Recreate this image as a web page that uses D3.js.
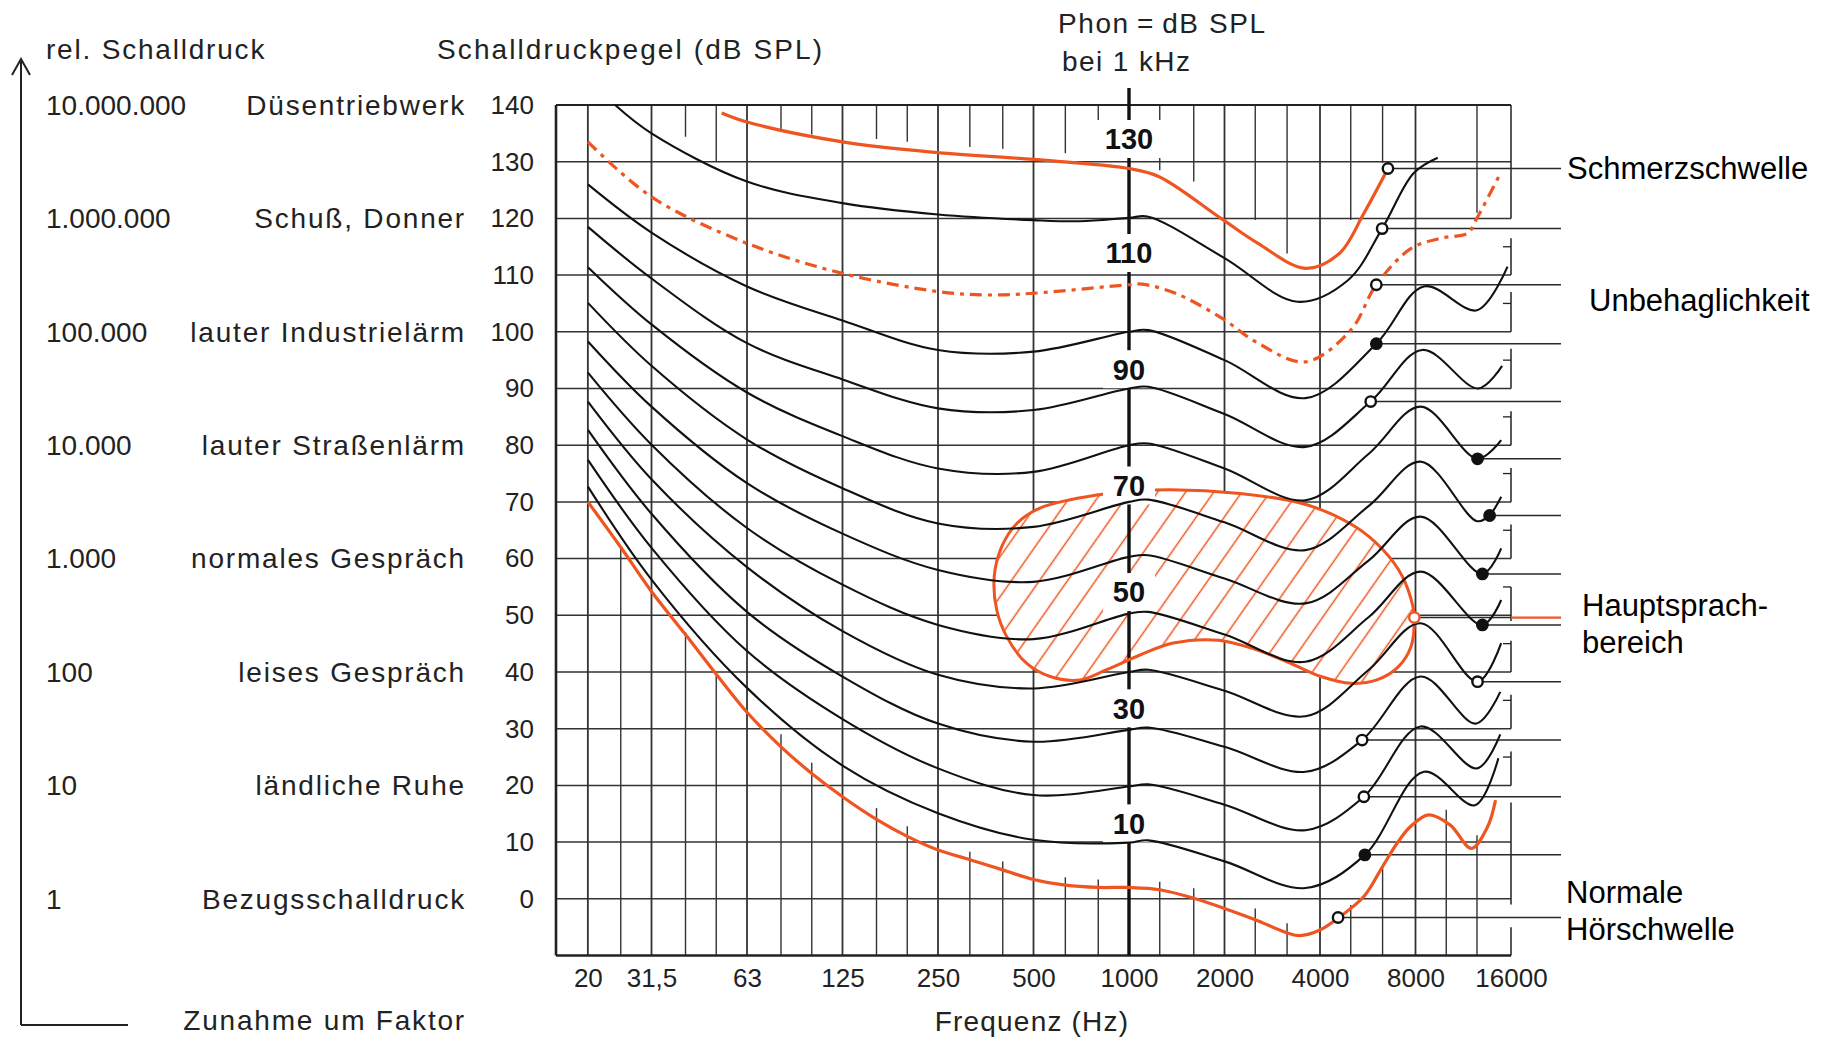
<!DOCTYPE html>
<html>
<head>
<meta charset="utf-8">
<script src="https://cdn.jsdelivr.net/npm/d3@7"></script>
<style>
  body { margin: 0; background: #fff; }
  svg { display: block; font-family: "Liberation Sans", Arial, sans-serif; }
</style>
</head>
<body>
<div id="chart"></div>
<script>
// ---- data ----
const dbTicks = [0, 10, 20, 30, 40, 50, 60, 70, 80, 90, 100, 110, 120, 130, 140];
const relPressureDb = [140, 120, 100, 80, 60, 40, 20, 0];
const relPressure = ["10.000.000", "1.000.000", "100.000", "10.000", "1.000", "100", "10", "1"];
const sources = ["Düsentriebwerk", "Schuß, Donner", "lauter Industrielärm", "lauter Straßenlärm",
                 "normales Gespräch", "leises Gespräch", "ländliche Ruhe", "Bezugsschalldruck"];

const freqTicks = [19.69, 31.25, 62.5, 125, 250, 500, 1000, 2000, 4000, 8000, 16000];
const freqLabels = ["20", "31,5", "63", "125", "250", "500", "1000", "2000", "4000", "8000", "16000"];
const majorFreqs = [19.69, 31.25, 62.5, 125, 250, 500, 2000, 4000, 8000];

// third-octave lines hanging from the top frame (end level in dB)
const topLineFreqs = [40, 50, 80, 100, 160, 200, 315, 400, 630, 800, 1250, 1600, 2500, 3150, 5000, 6300, 12500];
const topLineEnds  = [134.4, 130, 135.3, 134.8, 134, 133.5, 132.6, 132.3, 131.5, 131.5, 128.5, 126.5, 119.7, 113.8, 119.7, 129.8, 121];
// third-octave lines rising from the bottom frame
const bottomLineFreqs = [25, 40, 50, 80, 100, 160, 200, 315, 400, 630, 800, 1250, 1600, 2500, 3150, 5000, 6300, 10000, 12500];
const bottomLineEnds  = [62, 47, 40, 29, 24, 16, 12.8, 8.3, 6.6, 3.8, 3.4, 3.0, 1.85, -1.7, -4.3, -1.1, 6, 15.7, 11.2];

const rightFrameSegs = [[120, 140], [110, 116.5], [100, 107], [90, 97], [80, 86], [70, 76], [60, 66],
                        [49, 55], [40, 45.5], [30, 36], [20, 26], [-1, 17], [-10, -5]];
const rightFrameTicks = [115, 105, 95, 85, 75, 65, 55, 45, 35, 25];

// equal-loudness contours [Hz, dB]
const phon120 = [[24,140],[31.25,135],[62.5,126.5],[125,122.7],[250,120.7],[500,119.7],[700,119.5],[1000,120.1],[1150,120.3],[2000,113],[3400,105.3],[4900,109.1],[6280,118.2],[7900,128],[9400,130.7]];
const phon100 = [[19.7,126],[31.25,117.5],[62.5,108],[125,102],[250,96.8],[500,96.5],[1000,100],[1150,100.3],[2000,95],[3600,88.3],[6020,97.9],[8500,108],[12500,103.8],[15600,111.5]];
const phon90  = [[19.7,118.5],[31.25,109.4],[62.5,98],[125,91.6],[250,86.5],[500,86.2],[1000,90],[1150,90.3],[2000,85.5],[3600,79.7],[5780,87.7],[8400,96.8],[12600,90],[15000,94]];
const phon80  = [[19.7,111.4],[31.25,101.3],[62.5,89.3],[125,81.6],[250,75.9],[500,75.3],[1000,80],[1150,80.3],[2000,75.9],[3600,70.3],[5700,78.5],[8300,86.8],[12550,77.6],[14900,80.9]];
const phon70  = [[19.7,105.1],[31.25,94],[62.5,81],[125,72.4],[250,66.2],[500,65.6],[1000,70],[1150,70.4],[2000,66.4],[3600,61.5],[5700,69.3],[8300,77.1],[12500,66.6],[13700,67.7],[14900,70.9]];
const phon60  = [[19.7,98.3],[31.25,86.8],[62.5,73.3],[125,64.4],[250,58],[500,55.9],[1000,60.3],[1150,60.6],[2000,56.5],[3600,52.1],[5700,59.7],[8300,67.4],[13000,57.3],[14900,61.8]];
const phon50  = [[19.7,92.8],[31.25,80.1],[62.5,65.4],[125,55.4],[250,48.3],[500,45.8],[1000,50.3],[1150,50.6],[2000,46.6],[3600,41.8],[5700,49.7],[8300,57.7],[13000,48.3],[14900,52.7]];
const phon40  = [[19.7,87.7],[31.25,74],[62.5,58.5],[125,47.2],[250,39.5],[500,37.1],[1000,40],[1150,40.4],[2000,36.7],[3600,32.2],[5700,40.4],[8300,48.6],[12550,38.3],[14900,45.1]];
const phon30  = [[19.7,82.7],[31.25,67.9],[62.5,50.6],[125,39.2],[250,30.9],[500,27.7],[1000,29.8],[1150,30.2],[2000,26.8],[3600,22.4],[5430,28],[8300,39.2],[12400,30.9],[14800,36.5]];
const phon20  = [[19.7,77.4],[31.25,61.9],[62.5,43.7],[125,31.7],[250,23],[500,18.3],[1000,19.8],[1150,20.2],[2000,16.6],[3600,12.1],[5500,18],[8300,30.4],[12500,23],[14800,29]];
const phon10  = [[19.7,72.7],[31.25,56.3],[62.5,37.2],[125,23.5],[250,15.1],[500,10.4],[1000,9.9],[1150,10.3],[2000,6.6],[3600,1.9],[5540,7.75],[8500,22.4],[12300,16.5],[14600,24.8]];

const hoerschwelle = [[19.7,70],[25,62],[31.25,54.2],[40,46.6],[50,39.6],[62.5,32.9],[80,26.8],[100,22.1],[125,18],[160,14],[200,11],[250,8.6],[315,6.9],[400,5.1],[500,3.4],[630,2.4],[800,2],[1000,2],[1250,1.6],[1600,0.1],[2000,-1.7],[2500,-3.7],[3150,-6],[3450,-6.5],[4000,-5.5],[4560,-3.4],[5500,0.4],[6300,5.7],[7000,9.8],[7700,12.7],[8800,14.8],[10300,13],[12000,8.9],[13500,12.7],[14300,17.4]];
const schmerzschwelle = [[52,138.6],[62.5,137],[125,133.5],[250,131.6],[500,130.4],[1000,128.8],[1240,127.4],[1950,120],[2550,115.6],[3600,111.2],[4600,113.8],[5500,120.9],[6550,128.8]];
const unbehaglichkeit = [[19.7,133.5],[31.25,123.8],[62.5,115.6],[125,110.3],[250,107.1],[353,106.5],[500,106.8],[1000,108.3],[1100,108.4],[1400,106.8],[1950,102.5],[2550,98],[3600,94.7],[5000,100.3],[6020,108.3],[7750,114.7],[9600,116.5],[11700,117.4],[12400,119.7],[14900,128.2]];

const sprachbereich = [[791,71.2],[1193,72.1],[2238,71.5],[3633,69.5],[5173,65.6],[6329,61.5],[7281,56.8],[7857,51.5],[7934,49.6],[7744,44.5],[7057,40.9],[6042,38.6],[5011,38.0],[4028,39.2],[3240,41.5],[2526,43.9],[1915,45.6],[1379,45.1],[1083,43.0],[850,40.4],[701,38.6],[564,39.2],[476,41.5],[412,46.2],[383,50.9],[376,56.8],[397,62.1],[443,66.2],[524,68.9]];

// markers on the curves, each with a line out to the right margin
const markerFreq = [6550, 6280, 6020, 6020, 5780, 12550, 13700, 13000, 7934, 13000, 12550, 5430, 5500, 5540, 4560];
const markerDb   = [128.8, 118.2, 108.3, 97.9, 87.7, 77.6, 67.6, 57.3, 49.6, 48.3, 38.3, 28, 18, 7.75, -3.3];
const markerFill = [0, 0, 0, 1, 0, 1, 1, 1, 0, 1, 0, 0, 0, 1, 0];

const curveLabels = ["130", "110", "90", "70", "50", "30", "10"];
const curveLabelDb = [134, 113.9, 93.4, 72.9, 54.1, 33.6, 13.3];

// ---- layout ----
const width = 1821, height = 1039;
const plot = { left: 556, right: 1511, top: 105, bottom: 955.5 };
const labelEdge = 1561;
const orange = "#ef5520", ink = "#111", gridCol = "#333";

const svg = d3.select("#chart").append("svg")
    .attr("width", width).attr("height", height)
    .attr("viewBox", [0, 0, width, height]);
svg.append("rect").attr("width", width).attr("height", height).attr("fill", "#fff");

const x = d3.scaleLog().base(2).domain([15.625, 16000]).range([plot.left, plot.right]);
const y = d3.scaleLinear().domain([-10, 140]).range([plot.bottom, plot.top]);

const defs = svg.append("defs");
const pat = defs.append("pattern").attr("id", "hatch")
    .attr("patternUnits", "userSpaceOnUse").attr("width", 23).attr("height", 23)
    .attr("patternTransform", "rotate(35)");
pat.append("line").attr("x1", 11.5).attr("x2", 11.5).attr("y1", 0).attr("y2", 23)
    .attr("stroke", orange).attr("stroke-width", 1.5);

// grid
const gH = svg.append("g");
gH.selectAll("line").data(dbTicks.filter(d => d < 140)).join("line")
    .attr("x1", plot.left).attr("x2", plot.right)
    .attr("y1", d => y(d)).attr("y2", d => y(d))
    .attr("stroke", gridCol).attr("stroke-width", 1.5);

const gV = svg.append("g");
gV.selectAll("line").data(majorFreqs).join("line")
    .attr("x1", d => x(d)).attr("x2", d => x(d))
    .attr("y1", plot.top).attr("y2", plot.bottom)
    .attr("stroke", gridCol).attr("stroke-width", 1.8);

const gTop = svg.append("g");
gTop.selectAll("line").data(topLineFreqs).join("line")
    .attr("x1", d => x(d)).attr("x2", d => x(d))
    .attr("y1", plot.top).attr("y2", (d, i) => y(topLineEnds[i]))
    .attr("stroke", gridCol).attr("stroke-width", 1.4);

const gBot = svg.append("g");
gBot.selectAll("line").data(bottomLineFreqs).join("line")
    .attr("x1", d => x(d)).attr("x2", d => x(d))
    .attr("y1", plot.bottom).attr("y2", (d, i) => y(bottomLineEnds[i]))
    .attr("stroke", gridCol).attr("stroke-width", 1.4);

// frame
const frame = svg.append("g").attr("stroke", "#222");
frame.append("line").attr("x1", plot.left).attr("x2", plot.right).attr("y1", plot.top).attr("y2", plot.top).attr("stroke-width", 2);
frame.append("line").attr("x1", plot.left).attr("x2", plot.right).attr("y1", plot.bottom).attr("y2", plot.bottom).attr("stroke-width", 2.6);
frame.append("line").attr("x1", plot.left).attr("x2", plot.left).attr("y1", plot.top).attr("y2", plot.bottom).attr("stroke-width", 2.6);
frame.selectAll("line.seg").data(rightFrameSegs).join("line").attr("class", "seg")
    .attr("x1", plot.right).attr("x2", plot.right)
    .attr("y1", d => y(d[0])).attr("y2", d => y(d[1])).attr("stroke-width", 1.5);
frame.selectAll("line.tk").data(rightFrameTicks).join("line").attr("class", "tk")
    .attr("x1", plot.right - 8).attr("x2", plot.right)
    .attr("y1", d => y(d)).attr("y2", d => y(d)).attr("stroke-width", 1.3);

// speech area
const closed = d3.line().x(d => x(d[0])).y(d => y(d[1])).curve(d3.curveCatmullRomClosed.alpha(0.5));
svg.append("path").attr("d", closed(sprachbereich)).attr("fill", "#fff");
svg.append("path").attr("d", closed(sprachbereich)).attr("fill", "url(#hatch)");

// bold 1 kHz line
svg.append("line").attr("x1", x(1000)).attr("x2", x(1000)).attr("y1", 88).attr("y2", plot.bottom)
    .attr("stroke", ink).attr("stroke-width", 3.4);

svg.append("path").attr("d", closed(sprachbereich)).attr("fill", "none")
    .attr("stroke", orange).attr("stroke-width", 3);

// white boxes behind the phon labels
svg.selectAll("rect.lb").data(curveLabels).join("rect").attr("class", "lb")
    .attr("x", d => x(1000) - (d.length * 9 + 8))
    .attr("width", d => d.length * 18 + 16)
    .attr("y", (d, i) => y(curveLabelDb[i]) - 19).attr("height", 38)
    .attr("fill", "#fff");

// marker leader lines
const mk = markerFreq.map((f, i) => ({ f, db: markerDb[i], filled: markerFill[i], i }));
svg.append("g").selectAll("line").data(mk).join("line")
    .attr("x1", d => x(d.f)).attr("x2", d => d.i === 8 ? plot.right : labelEdge)
    .attr("y1", d => y(d.db)).attr("y2", d => y(d.db))
    .attr("stroke", "#2a2a2a").attr("stroke-width", 1.5);
svg.append("line").attr("x1", plot.right).attr("x2", labelEdge)
    .attr("y1", y(markerDb[8])).attr("y2", y(markerDb[8]))
    .attr("stroke", orange).attr("stroke-width", 2.2);

// contours
const line = d3.line().x(d => x(d[0])).y(d => y(d[1])).curve(d3.curveCatmullRom.alpha(0.5));
const blackCurves = [phon120, phon100, phon90, phon80, phon70, phon60, phon50, phon40, phon30, phon20, phon10];
svg.append("g").selectAll("path").data(blackCurves).join("path")
    .attr("d", line).attr("fill", "none").attr("stroke", ink).attr("stroke-width", 2.1);

svg.append("path").attr("d", line(hoerschwelle)).attr("fill", "none")
    .attr("stroke", orange).attr("stroke-width", 3.2);
svg.append("path").attr("d", line(schmerzschwelle)).attr("fill", "none")
    .attr("stroke", orange).attr("stroke-width", 3.2);
svg.append("path").attr("d", line(unbehaglichkeit)).attr("fill", "none")
    .attr("stroke", orange).attr("stroke-width", 3.2).attr("stroke-dasharray", "12,6,4,6");

// markers
svg.append("g").selectAll("circle").data(mk).join("circle")
    .attr("cx", d => x(d.f)).attr("cy", d => y(d.db)).attr("r", 5.2)
    .attr("fill", d => d.filled ? ink : "#fff")
    .attr("stroke", d => d.i === 8 ? orange : ink).attr("stroke-width", 2.4);

// phon labels at 1 kHz
svg.selectAll("text.cl").data(curveLabels).join("text").attr("class", "cl")
    .attr("x", x(1000)).attr("y", (d, i) => y(curveLabelDb[i])).attr("dy", "0.36em")
    .attr("text-anchor", "middle").attr("font-size", 29).attr("font-weight", "bold")
    .attr("fill", ink).text(d => d);

// axes
const yAxis = svg.append("g").attr("transform", `translate(${plot.left},0)`)
    .call(d3.axisLeft(y).tickValues(dbTicks).tickSize(0).tickPadding(22));
yAxis.select(".domain").remove();
yAxis.attr("font-family", null).attr("font-size", null);
yAxis.selectAll("text").attr("font-size", 26).attr("fill", "#222");

const xAxis = svg.append("g").attr("transform", `translate(0,${plot.bottom})`)
    .call(d3.axisBottom(x).tickValues(freqTicks).tickFormat((d, i) => freqLabels[i]).tickSize(0).tickPadding(13));
xAxis.select(".domain").remove();
xAxis.attr("font-family", null).attr("font-size", null);
xAxis.selectAll("text").attr("font-size", 26).attr("fill", "#222");

// left columns
const leftText = svg.append("g").attr("fill", "#222").attr("font-size", 28);
leftText.selectAll("text.num").data(relPressure).join("text").attr("class", "num")
    .attr("x", 46).attr("y", (d, i) => y(relPressureDb[i])).attr("dy", "0.35em").text(d => d);
leftText.selectAll("text.src").data(sources).join("text").attr("class", "src")
    .attr("x", 466).attr("y", (d, i) => y(relPressureDb[i])).attr("dy", "0.35em")
    .attr("text-anchor", "end").attr("letter-spacing", 1.8).text(d => d);

leftText.append("text").attr("x", 46).attr("y", 59).attr("letter-spacing", 1.8).text("rel. Schalldruck");
leftText.append("text").attr("x", 437).attr("y", 59).attr("letter-spacing", 2.1).text("Schalldruckpegel (dB SPL)");
leftText.append("text").attr("x", 466).attr("y", 1030).attr("text-anchor", "end").attr("letter-spacing", 1.8).text("Zunahme um Faktor");
leftText.append("text").attr("x", x(1000) - 97).attr("y", 1031).attr("text-anchor", "middle").attr("letter-spacing", 1.2).text("Frequenz (Hz)");
leftText.append("text").attr("x", 1058).attr("y", 33).attr("letter-spacing", 1.6).text("Phon\u2009=\u2009dB SPL");
leftText.append("text").attr("x", 1062).attr("y", 71).attr("letter-spacing", 1.4).text("bei 1 kHz");

// arrow on the far left
svg.append("path").attr("d", "M21,1025V59M12,75L21,59L30,75M21,1025H128")
    .attr("fill", "none").attr("stroke", "#222").attr("stroke-width", 2);

// right labels
const rightText = svg.append("g").attr("fill", "#000").attr("font-size", 31);
rightText.append("text").attr("x", 1567).attr("y", y(128.8)).attr("dy", "0.35em").text("Schmerzschwelle");
rightText.append("text").attr("x", 1589).attr("y", y(105.6)).attr("dy", "0.35em").text("Unbehaglichkeit");
rightText.append("text").attr("x", 1582).attr("y", y(51.8)).attr("dy", "0.35em").text("Hauptsprach-");
rightText.append("text").attr("x", 1582).attr("y", y(45.3)).attr("dy", "0.35em").text("bereich");
rightText.append("text").attr("x", 1566).attr("y", y(1.2)).attr("dy", "0.35em").text("Normale");
rightText.append("text").attr("x", 1566).attr("y", y(-5.3)).attr("dy", "0.35em").text("Hörschwelle");
</script>
</body>
</html>
